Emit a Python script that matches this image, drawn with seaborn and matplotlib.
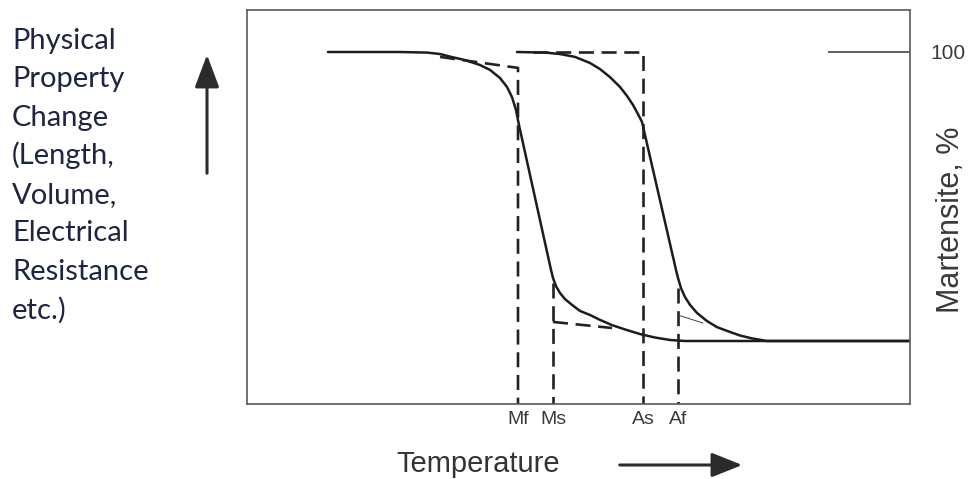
import matplotlib
matplotlib.use("Agg")
import matplotlib.pyplot as plt
import seaborn as sns
import pandas as pd

# ---- data (temperature in arbitrary units, martensite in %) ----
cool_T = [81, 153, 180, 193, 203, 218, 233, 243, 253, 260, 265, 269, 272, 304, 306, 309,
          313, 318, 325, 333, 343, 353, 365, 378, 393, 408, 423, 438, 663]
cool_M = [100, 100, 99.8, 99.3, 98.4, 97.2, 95.5, 93.8, 91.0, 87.9, 84.4, 79.9, 74.7, 24.6,
          21.8, 19.0, 16.6, 14.5, 12.5, 10.4, 9.0, 7.3, 5.5, 4.0, 2.4, 1.2, 0.35, 0, 0]

heat_T = [270, 298, 313, 328, 343, 353, 363, 373, 380, 386, 391, 395, 429, 431, 434, 438,
          443, 450, 460, 470, 480, 493, 505, 520, 663]
heat_M = [100, 99.8, 99.3, 98.3, 96.2, 94.1, 91.3, 87.9, 84.8, 81.7, 78.5, 75.8, 24.6, 21.8,
          18.3, 15.2, 12.5, 9.7, 6.9, 4.8, 3.5, 1.9, 0.9, 0, 0]

ylo = -21.8
mf_T = [193, 271, 271]
mf_M = [98.3, 94.5, ylo]
as_T = [286, 396, 396]
as_M = [100, 100, ylo]
ms_vert_T = [306, 306]
ms_vert_M = [20.1, ylo]
ms_hor_T = [306, 365]
ms_hor_M = [6.6, 4.5]
af_vert_T = [431, 431]
af_vert_M = [18.3, ylo]
af_thin_T = [431, 456]
af_thin_M = [9.0, 6.2]

tick_T = [271, 306, 396, 431]
tick_labels = ["Mf", "Ms", "As", "Af"]

left_lines = ["Physical", "Property", "Change", "(Length,", "Volume,",
              "Electrical", "Resistance", "etc.)"]

sns.set_theme(style="white")
plt.rcParams["font.family"] = ["Liberation Sans", "DejaVu Sans"]

W, H = 972, 479
fig = plt.figure(figsize=(W / 100, H / 100), dpi=100)
ax = fig.add_axes([247 / W, 1 - 404 / H, 663 / W, 394 / H])

curve_col = "#1c1c1c"
dash = (0, (5.7, 2.9))

def line(xs, ys, **kw):
    df = pd.DataFrame({"T": xs, "M": ys})
    sns.lineplot(data=df, x="T", y="M", sort=False, estimator=None, ax=ax, **kw)

line(cool_T, cool_M, color=curve_col, lw=1.8)
line(heat_T, heat_M, color=curve_col, lw=1.8)
for xs, ys in [(mf_T, mf_M), (as_T, as_M), (ms_vert_T, ms_vert_M),
               (ms_hor_T, ms_hor_M), (af_vert_T, af_vert_M)]:
    line(xs, ys, color="#222222", lw=1.9, linestyle=dash)
line(af_thin_T, af_thin_M, color="#444444", lw=0.7)

ax.set_xlim(0, 663)
ax.set_ylim(ylo, (341 - 10) / 2.89)
ax.set_xlabel("")
ax.set_ylabel("")

for s in ax.spines.values():
    s.set_visible(True)
    s.set_color("#5a5a5a")
    s.set_linewidth(1.2)

ax.set_xticks(tick_T, labels=tick_labels)
ax.tick_params(axis="x", length=0, pad=5, labelsize=14, labelcolor="#3a3a3a")

ax.yaxis.tick_right()
ax.set_yticks([100], labels=["100"])
ax.tick_params(axis="y", direction="in", length=59, width=1.1, color="#333333",
               pad=15, labelsize=15, labelcolor="#3a3a3a", left=False, right=True)

ax.yaxis.set_label_position("right")
ax.set_ylabel("Martensite, %", fontsize=22, color="#3a3a3a", rotation=90)
ax.yaxis.set_label_coords((936 - 247) / 663, (404 - 220) / 394)

ax.set_facecolor("white")

# left text block
for i, t in enumerate(left_lines):
    fig.text(12 / W, 1 - (49 + 38.5 * i) / H, t, fontsize=21, color="#1c2541",
             family=["Lato", "DejaVu Sans"], va="baseline", ha="left")

# axis description: temperature
fig.text(478 / W, 1 - 464 / H, "Temperature", fontsize=21, color="#333333",
         ha="center", va="center")

# arrows
fig.add_artist(matplotlib.patches.FancyArrowPatch(
    (207 / W, 1 - 176 / H), (207 / W, 1 - 52 / H), transform=fig.transFigure,
    arrowstyle="-|>,head_length=0.8,head_width=0.3", mutation_scale=25,
    lw=2.2, color="#2b2b2b"))
fig.add_artist(matplotlib.patches.FancyArrowPatch(
    (617 / W, 1 - 465 / H), (745 / W, 1 - 465 / H), transform=fig.transFigure,
    arrowstyle="-|>,head_length=0.75,head_width=0.3", mutation_scale=25,
    lw=2.2, color="#2b2b2b"))

fig.savefig("out.png", dpi=100, facecolor="white")
